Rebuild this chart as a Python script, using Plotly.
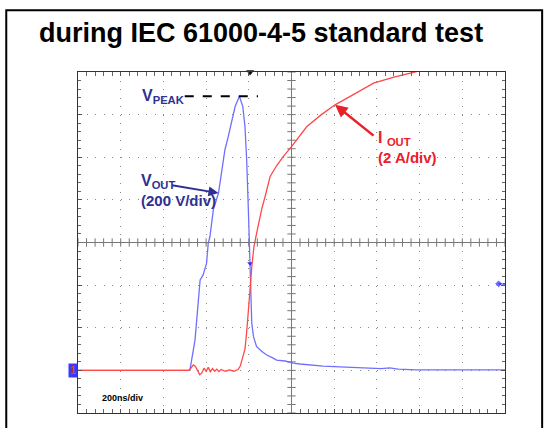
import numpy as np
import plotly.graph_objects as go

# ---------------- data (time in ns, 200 ns/div) ----------------
vout_t = [0, 524, 548, 564, 572, 586, 602, 610, 618, 634, 658, 674, 688, 704, 720, 736,
          756, 772, 782, 790, 798, 802, 806, 808, 814, 822, 836, 860, 884, 910, 930,
          970, 1008, 1040, 1080, 1120, 1148, 1200, 1260, 1300, 1384, 1420, 1460, 1500,
          1586, 2000]
vout_v = [0, 0, 142, 346, 424, 448, 502, 596, 628, 754, 832, 940, 1034, 1098, 1176, 1238,
          1286, 1238, 1144, 988, 754, 612, 502, 346, 220, 158, 112, 90, 72, 60, 48,
          44, 34, 30, 26, 22, 20, 18, 16, 12, 12, 8, 12, 6, 2, 2]

iout_t = [0, 520, 530, 540, 550, 560, 570, 580, 590, 600, 610, 620, 630, 640, 650, 660,
          670, 690, 710, 730, 750, 760, 772, 782, 790, 798, 806, 814, 824, 836, 860, 880,
          900, 930, 962, 1000, 1040, 1072, 1140, 1204, 1300, 1384, 1480, 1586, 1640]
iout_a = [0, 0, 0.12, 0.26, 0.18, 0.0, -0.2, -0.12, 0.1, -0.04, 0.14, -0.06, 0.08, -0.04,
          0.06, -0.06, 0.04, -0.04, 0.02, -0.04, 0.04, 0.2, 0.6, 1.0, 1.8, 2.68, 3.8, 4.86,
          5.8, 6.4, 7.54, 8.3, 9.1, 9.6, 10.04, 10.5, 11.0, 11.44, 12.0, 12.46, 13.0,
          13.48, 13.76, 14.02, 14.2]

T_DIV = 200          # ns/div
V_DIV = 200          # V/div
A_DIV = 2            # A/div
N_XDIV, N_YDIV = 10, 8
TRIG_T = 806         # trigger position (ns)
TRIG_V = 406         # trigger level (V)
VPEAK = max(vout_v)
VOUT_ARROW = (658, 832)
IOUT_ARROW = (1204, 12.46)

x_range = [0, N_XDIV * T_DIV]
v_range = [-V_DIV, (N_YDIV - 1) * V_DIV]
a_range = [-A_DIV, (N_YDIV - 1) * A_DIV]
XC = sum(x_range) / 2
VC = sum(v_range) / 2

NAVY = "#2e3192"
RED = "#e8202a"
FONT = "Liberation Sans, Arial, sans-serif"

fig = go.Figure()

# centre crosshair tick marks
minor_x = np.arange(x_range[0], x_range[1] + 1, T_DIV / 5)
minor_y = np.arange(v_range[0], v_range[1] + 1, V_DIV / 5)
fig.add_trace(go.Scatter(x=minor_x, y=[VC] * len(minor_x), mode="markers",
                         marker=dict(symbol="line-ns", size=6, line=dict(color="#777", width=1)),
                         hoverinfo="skip", showlegend=False))
fig.add_trace(go.Scatter(x=[XC] * len(minor_y), y=minor_y, mode="markers",
                         marker=dict(symbol="line-ew", size=6, line=dict(color="#777", width=1)),
                         hoverinfo="skip", showlegend=False))

# traces
fig.add_trace(go.Scatter(x=iout_t, y=iout_a, yaxis="y2", mode="lines",
                         line=dict(color="#ff4848", width=1.3), showlegend=False))
fig.add_trace(go.Scatter(x=vout_t, y=vout_v, mode="lines",
                         line=dict(color="#7070ff", width=1.3), showlegend=False))

# trigger markers
fig.add_trace(go.Scatter(x=[TRIG_T], y=[v_range[1]], mode="markers", cliponaxis=False,
                         marker=dict(symbol="triangle-down", size=7, color="#111"),
                         showlegend=False))
fig.add_trace(go.Scatter(x=[TRIG_T], y=[vout_v[vout_t.index(TRIG_T)]], mode="markers",
                         marker=dict(symbol="triangle-down", size=5, color="#3030ff"),
                         showlegend=False))
fig.add_trace(go.Scatter(x=[x_range[1] - 30, x_range[1]], y=[TRIG_V, TRIG_V],
                         mode="markers+lines", cliponaxis=False,
                         line=dict(color="#3030ff", width=1.5),
                         marker=dict(symbol="diamond", size=[6, 0], color="#3030ff"),
                         showlegend=False))

axis_common = dict(showticklabels=False, showline=True, linecolor="#333", linewidth=1,
                   mirror="allticks", ticks="inside", ticklen=4, tickcolor="#555",
                   showgrid=True, gridcolor="#8a8a8a", gridwidth=1, griddash="1px,7.54px",
                   zeroline=False,
                   minor=dict(ticks="inside", ticklen=3, tickcolor="#666", showgrid=False))

fig.update_layout(
    width=545, height=428,
    margin=dict(l=78, r=40, t=72, b=15),
    paper_bgcolor="white", plot_bgcolor="white",
    xaxis=dict(range=x_range, dtick=T_DIV, tick0=0, **axis_common),
    yaxis=dict(range=v_range, dtick=V_DIV, tick0=v_range[0], **axis_common),
    yaxis2=dict(range=a_range, overlaying="y", visible=False),
    showlegend=False,
)
fig.update_xaxes(minor_dtick=T_DIV / 5)
fig.update_yaxes(minor_dtick=V_DIV / 5, selector=dict(overlaying=None))

shapes = [
    # outer frame
    dict(type="rect", xref="paper", yref="paper", x0=-0.168, x1=1.087, y0=-0.2, y1=1.181,
         line=dict(color="black", width=2), layer="above"),
    # centre lines
    dict(type="line", xref="x", yref="paper", x0=XC, x1=XC, y0=0, y1=1,
         line=dict(color="#777", width=1)),
    dict(type="line", xref="paper", yref="y", x0=0, x1=1, y0=VC, y1=VC,
         line=dict(color="#777", width=1)),
    # V peak dashed line
    dict(type="line", xref="x", yref="y", x0=500, x1=843, y0=VPEAK, y1=VPEAK,
         line=dict(color="black", width=2, dash="dash")),
]
fig.update_layout(shapes=shapes)

ann = [
    dict(text="<b>during IEC 61000-4-5 standard test</b>", xref="paper", yref="paper",
         x=-0.096, y=1.114, xanchor="left", yanchor="middle", showarrow=False,
         font=dict(family=FONT, size=27, color="black")),
    dict(text="<b>V<sub>PEAK</sub></b>", xref="x", yref="y", x=290, y=VPEAK,
         xanchor="left", yanchor="middle", showarrow=False,
         font=dict(family=FONT, size=16, color=NAVY)),
    dict(text="<b>V<sub>OUT</sub></b>", xref="x", yref="y", x=285, y=885,
         xanchor="left", yanchor="middle", showarrow=False,
         font=dict(family=FONT, size=16, color=NAVY)),
    dict(text="<b>(200 V/div)</b>", xref="x", yref="y", x=285, y=795,
         xanchor="left", yanchor="middle", showarrow=False,
         font=dict(family=FONT, size=15, color=NAVY)),
    dict(text="", xref="x", yref="y", x=VOUT_ARROW[0], y=VOUT_ARROW[1],
         ax=-48, ay=-8, showarrow=True, arrowhead=2, arrowsize=1, arrowwidth=2,
         arrowcolor=NAVY),
    dict(text="<b>I <sub>OUT</sub></b>", xref="x", yref="y2", x=1395, y=10.9,
         xanchor="left", yanchor="middle", showarrow=False,
         font=dict(family=FONT, size=16, color=RED)),
    dict(text="<b>(2 A/div)</b>", xref="x", yref="y2", x=1395, y=10.0,
         xanchor="left", yanchor="middle", showarrow=False,
         font=dict(family=FONT, size=15, color=RED)),
    dict(text="", xref="x", yref="y2", x=IOUT_ARROW[0], y=IOUT_ARROW[1],
         ax=40, ay=32, showarrow=True, arrowhead=2, arrowsize=1, arrowwidth=2.5,
         arrowcolor=RED),
    dict(text="<b>200ns/div</b>", xref="x", yref="y", x=104, y=-130,
         xanchor="left", yanchor="middle", showarrow=False,
         font=dict(family=FONT, size=9, color="black")),
    dict(text="<b>1</b>", xref="paper", yref="y", x=0, y=0, xanchor="right",
         yanchor="middle", showarrow=False, bgcolor="#3a3aff", borderpad=1,
         font=dict(family=FONT, size=10, color="#ff3030")),
]
fig.update_layout(annotations=ann)

fig.write_html("out.html", config={"displayModeBar": False},
               post_script="document.body.style.margin='0';document.body.style.overflow='hidden';")
